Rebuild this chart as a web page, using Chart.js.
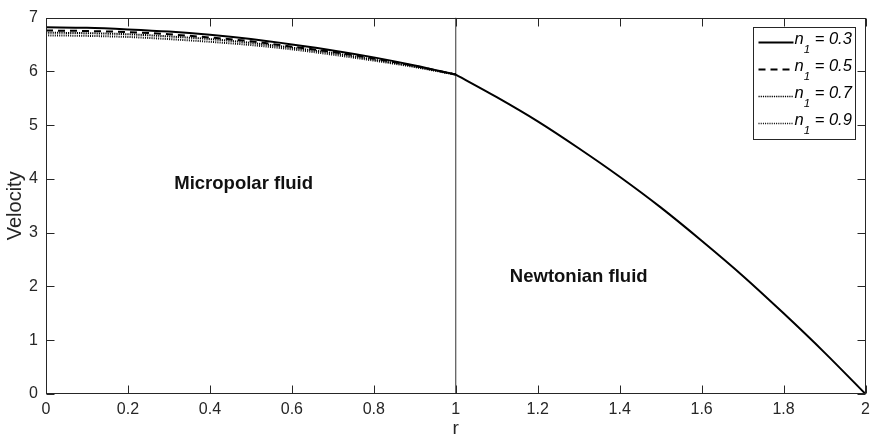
<!DOCTYPE html>
<html>
<head>
<meta charset="utf-8">
<script src="https://cdn.jsdelivr.net/npm/chart.js@4.4.1/dist/chart.umd.min.js"></script>
<style>
html,body{margin:0;padding:0;background:#fff}
#wrap{width:876px;height:440px}
</style>
</head>
<body>
<div id="wrap"><canvas id="chart" width="876" height="440"></canvas></div>
<script>

// micropolar region, r = 0 .. 1
const rMicro = [0, 0.1, 0.2, 0.3, 0.4, 0.5, 0.6, 0.7, 0.8, 0.9, 1.0]
const velN03 = [6.82, 6.81, 6.78, 6.74, 6.68, 6.60, 6.50, 6.39, 6.26, 6.11, 5.94]
const velN05 = [6.76, 6.75, 6.73, 6.69, 6.63, 6.56, 6.46, 6.36, 6.24, 6.10, 5.94]
const velN07 = [6.72, 6.71, 6.69, 6.65, 6.60, 6.53, 6.44, 6.34, 6.22, 6.09, 5.94]
const velN09 = [6.67, 6.66, 6.64, 6.60, 6.55, 6.49, 6.41, 6.31, 6.20, 6.08, 5.94]

// newtonian region, r = 1 .. 2 (same for every n1)
const rNewt = [1.0, 1.1, 1.2, 1.3, 1.4, 1.5, 1.6, 1.7, 1.8, 1.9, 2.0]
const velNewt = [5.94, 5.52, 5.07, 4.57, 4.04, 3.47, 2.85, 2.20, 1.50, 0.77, 0]

// interface between the two fluids
const interfaceR = 1
const interfaceV = [0, 7]

const n1Labels = ["0.3", "0.5", "0.7", "0.9"]
const xTicks = [0, 0.2, 0.4, 0.6, 0.8, 1, 1.2, 1.4, 1.6, 1.8, 2]
const yTicks = [0, 1, 2, 3, 4, 5, 6, 7]

const FONT = '"Liberation Sans", Arial, Helvetica, sans-serif'
const styles = [
  {dash: [], width: 2},
  {dash: [7, 5], width: 2},
  {dash: [1.2, 1], width: 2},
  {dash: [1, 1.2], width: 2}
]

function pts(xs, ys) {
  return xs.map((v, i) => ({x: v, y: ys[i]}))
}

// box with inward ticks, region labels and legend
const matlabLook = {
  id: "matlabLook",
  afterDraw(chart) {
    const ctx = chart.ctx
    const a = chart.chartArea
    const xs = chart.scales.x
    const ys = chart.scales.y
    const L = Math.round(a.left) + 0.5
    const R = Math.round(a.right) - 0.5
    const T = Math.round(a.top) + 0.5
    const B = Math.round(a.bottom) - 0.5
    const tl = 8

    ctx.save()
    ctx.strokeStyle = "#262626"
    ctx.lineWidth = 1
    ctx.setLineDash([])
    ctx.strokeRect(L, T, R - L, B - T)

    ctx.beginPath()
    for (const v of xTicks) {
      const px = Math.round(xs.getPixelForValue(v)) + 0.5
      ctx.moveTo(px, B); ctx.lineTo(px, B - tl)
      ctx.moveTo(px, T); ctx.lineTo(px, T + tl)
    }
    for (const v of yTicks) {
      const py = Math.round(ys.getPixelForValue(v)) + 0.5
      ctx.moveTo(L, py); ctx.lineTo(L + tl, py)
      ctx.moveTo(R, py); ctx.lineTo(R - tl, py)
    }
    ctx.stroke()

    // region labels
    ctx.fillStyle = "#111"
    ctx.font = "bold 18.5px " + FONT
    ctx.textBaseline = "middle"
    ctx.textAlign = "left"
    ctx.fillText("Micropolar fluid", xs.getPixelForValue(0.313), ys.getPixelForValue(3.9))
    ctx.fillText("Newtonian fluid", xs.getPixelForValue(1.132), ys.getPixelForValue(2.18))

    // legend
    const bx = Math.round(a.right) - 112.5
    const by = Math.round(a.top) + 9.5
    const bw = 102
    const bh = 112
    ctx.fillStyle = "#fff"
    ctx.fillRect(bx, by, bw, bh)
    ctx.strokeStyle = "#262626"
    ctx.lineWidth = 1
    ctx.strokeRect(bx, by, bw, bh)

    ctx.textBaseline = "alphabetic"
    for (let i = 0; i < n1Labels.length; i++) {
      const base = by + 16.5 + i * 27
      const st = styles[i]
      ctx.strokeStyle = "#000"
      ctx.lineWidth = i < 2 ? 2 : 1.5
      ctx.setLineDash(st.dash)
      ctx.beginPath()
      ctx.moveTo(bx + 5, base - 1.5)
      ctx.lineTo(bx + 40, base - 1.5)
      ctx.stroke()
      ctx.setLineDash([])

      ctx.fillStyle = "#000"
      let tx = bx + 41
      ctx.font = "italic 16.5px " + FONT
      ctx.fillText("n", tx, base)
      tx += ctx.measureText("n").width
      ctx.font = "italic 11.5px " + FONT
      ctx.fillText("1", tx, base + 9)
      tx += ctx.measureText("1").width
      ctx.font = "italic 16.5px " + FONT
      ctx.fillText(" = " + n1Labels[i], tx, base)
    }
    ctx.restore()
  }
}

Chart.defaults.font.family = FONT
Chart.defaults.color = "#262626"

const microSets = [velN03, velN05, velN07, velN09].map((v, i) => ({
  label: "n1 = " + n1Labels[i],
  data: pts(rMicro, v),
  borderColor: "#000",
  borderWidth: styles[i].width,
  borderDash: styles[i].dash,
  pointRadius: 0,
  fill: false,
  cubicInterpolationMode: "monotone"
}))

const chart = new Chart(document.getElementById("chart").getContext("2d"), {
  type: "line",
  data: {
    datasets: [
      ...microSets,
      {
        label: "Newtonian",
        data: pts(rNewt, velNewt),
        borderColor: "#000",
        borderWidth: 2,
        pointRadius: 0,
        fill: false,
        cubicInterpolationMode: "monotone"
      },
      {
        label: "interface",
        data: interfaceV.map(v => ({x: interfaceR, y: v})),
        borderColor: "#333",
        borderWidth: 1,
        pointRadius: 0,
        fill: false
      }
    ]
  },
  options: {
    responsive: false,
    animation: false,
    devicePixelRatio: 1,
    layout: {padding: {top: 11, right: 7, left: 0, bottom: 0}},
    plugins: {
      legend: {display: false},
      tooltip: {enabled: false}
    },
    scales: {
      x: {
        type: "linear",
        min: 0,
        max: 2,
        afterBuildTicks: s => { s.ticks = xTicks.map(v => ({value: v})) },
        afterFit: s => { s.height = 46 },
        grid: {display: false, drawTicks: false},
        border: {display: false},
        ticks: {
          font: {size: 16},
          padding: 6,
          maxRotation: 0,
          callback: v => String(Math.round(v * 10) / 10)
        },
        title: {display: true, text: "r", font: {size: 19}, padding: {top: 0, bottom: 0}}
      },
      y: {
        type: "linear",
        min: 0,
        max: 7,
        afterBuildTicks: s => { s.ticks = yTicks.map(v => ({value: v})) },
        afterFit: s => { s.width = 46 },
        grid: {display: false, drawTicks: false},
        border: {display: false},
        ticks: {font: {size: 16}, padding: 8},
        title: {display: true, text: "Velocity", font: {size: 20}, padding: {top: 3, bottom: 0}}
      }
    }
  },
  plugins: [matlabLook]
})

</script>
</body>
</html>
